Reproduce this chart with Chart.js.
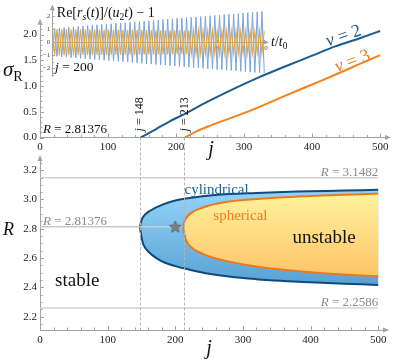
<!DOCTYPE html>
<html><head><meta charset="utf-8">
<script src="https://cdn.jsdelivr.net/npm/chart.js@4.4.1/dist/chart.umd.min.js"></script>
<style>
html,body{margin:0;padding:0;background:#fff;}
#wrap{position:relative;width:394px;height:359px;overflow:hidden;background:#fff}
canvas{position:absolute;left:0;top:0}
</style></head><body>
<div id="wrap">
<canvas id="cBottom" width="394" height="359"></canvas>
<canvas id="cTop" width="394" height="359"></canvas>
<canvas id="cInset" width="394" height="359"></canvas>
</div>
<script>
// ---------------- data ----------------
const jTicks = [0, 100, 200, 300, 400, 500];
const sigmaTicks = [0, 0.5, 1, 1.5, 2];
const rTicks = [2.2, 2.4, 2.6, 2.8, 3.0, 3.2];
const insetTTicks = [2, 4, 6, 8, 10];
const insetYTicks = [-2, -1, 0, 1, 2];

// growth rate sigma_R vs j  (R = 2.81376)
const nu2J     = [148, 170, 190, 213, 250, 287, 320, 360, 400, 434, 470, 500];
const nu2Sigma = [0, 0.16, 0.31, 0.46, 0.72, 0.96, 1.16, 1.38, 1.59, 1.77, 1.93, 2.07];
const nu3J     = [213, 230, 250, 287, 320, 360, 400, 434, 470, 500];
const nu3Sigma = [0, 0.12, 0.23, 0.41, 0.58, 0.81, 1.03, 1.22, 1.43, 1.60];

const onsetJ = [148, 213];
const criticalR = [3.1482, 2.2586];
const markedR = 2.81376;
const starJ = 200;

// stability boundaries R(j)
const cylTopJ = [148, 149.5, 153, 160, 170, 182, 196, 211, 240, 279, 320, 360, 400, 450, 500];
const cylTopR = [2.81, 2.85, 2.885, 2.915, 2.942, 2.967, 2.988, 3.003, 3.022, 3.037, 3.045, 3.051, 3.056, 3.061, 3.066];
const cylBotJ = [149.5, 153, 160, 172, 185, 200, 220, 245, 279, 320, 360, 400, 450, 500];
const cylBotR = [2.76, 2.69, 2.645, 2.60, 2.568, 2.545, 2.522, 2.497, 2.474, 2.456, 2.444, 2.435, 2.425, 2.417];
const sphTopJ = [212, 213.5, 217, 223, 233, 245, 260, 279, 310, 353, 400, 450, 500];
const sphTopR = [2.81, 2.85, 2.88, 2.907, 2.932, 2.952, 2.97, 2.986, 3.0, 3.014, 3.024, 3.032, 3.04];
const sphBotJ = [213.5, 217, 223, 233, 245, 260, 279, 310, 353, 400, 450, 500];
const sphBotR = [2.765, 2.71, 2.675, 2.645, 2.62, 2.597, 2.577, 2.55, 2.523, 2.503, 2.488, 2.476];

// inset: Re[r_s(t)]/(u2 t) - 1 vs t/t0, j = 200 (successive extrema)
const insetT = [1.000,1.026,1.052,1.080,1.108,1.137,1.166,1.196,1.227,1.259,
1.292,1.325,1.359,1.395,1.431,1.468,1.506,1.545,1.585,1.626,
1.668,1.711,1.756,1.801,1.848,1.896,1.945,1.995,2.047,2.100,
2.154,2.210,2.268,2.326,2.387,2.448,2.512,2.577,2.644,2.712,
2.783,2.855,2.929,3.005,3.082,3.162,3.244,3.328,3.415,3.503,
3.594,3.687,3.782,3.880,3.981,4.084,4.190,4.299,4.410,4.524,
4.642,4.762,4.885,5.012,5.142,5.275,5.412,5.552,5.696,5.843,
5.995,6.150,6.310,6.473,6.641,6.813,6.989,7.171,7.356,7.547,
7.743,7.943,8.149,8.360,8.577,8.799,9.027,9.261,9.501,9.747,
10.000];
const insetBlue = [-1.05,1.06,-1.08,1.09,-1.11,1.12,-1.14,1.15,-1.17,1.18,
-1.20,1.21,-1.23,1.24,-1.26,1.27,-1.28,1.30,-1.31,1.33,
-1.34,1.36,-1.37,1.39,-1.40,1.42,-1.43,1.45,-1.46,1.48,
-1.49,1.50,-1.52,1.53,-1.55,1.56,-1.58,1.59,-1.61,1.62,
-1.64,1.65,-1.67,1.68,-1.70,1.71,-1.72,1.74,-1.75,1.77,
-1.78,1.80,-1.81,1.83,-1.84,1.86,-1.87,1.89,-1.90,1.92,
-1.93,1.94,-1.96,1.97,-1.99,2.00,-2.02,2.03,-2.05,2.06,
-2.08,2.09,-2.11,2.12,-2.14,2.15,-2.16,2.18,-2.19,2.21,
-2.22,2.24,-2.25,2.27,-2.28,2.30,-2.31,2.33,-2.34,2.36,
-2.37];
const insetOrange = [1.02,-1.02,1.02,-1.01,1.01,-1.01,1.01,-1.00,1.00,-1.00,
1.00,-0.99,0.99,-0.99,0.99,-0.99,0.98,-0.98,0.98,-0.98,
0.98,-0.97,0.97,-0.97,0.97,-0.97,0.96,-0.96,0.96,-0.96,
0.96,-0.95,0.95,-0.95,0.95,-0.94,0.94,-0.94,0.94,-0.94,
0.93,-0.93,0.93,-0.93,0.93,-0.92,0.92,-0.92,0.92,-0.92,
0.91,-0.91,0.91,-0.91,0.91,-0.90,0.90,-0.90,0.90,-0.90,
0.89,-0.89,0.89,-0.89,0.89,-0.88,0.88,-0.88,0.88,-0.88,
0.87,-0.87,0.87,-0.87,0.87,-0.86,0.86,-0.86,0.86,-0.86,
0.86,-0.85,0.85,-0.85,0.85,-0.85,0.85,-0.85,0.85,-0.85,
0.85];

// ---------------- helpers ----------------
const FONT = '"Liberation Serif","DejaVu Serif",serif';
const BLUE = '#1d5c90', ORANGE = '#f07c1e', AXIS = '#a3a3a3';
function fnt(sz, it) { return (it ? 'italic ' : '') + sz + 'px ' + FONT; }
function richText(ctx, parts, x, y, size, color, align, angle, vmid) {
  ctx.save();
  ctx.translate(x, y);
  if (angle) ctx.rotate(angle);
  ctx.fillStyle = color; ctx.textBaseline = 'alphabetic'; ctx.textAlign = 'left';
  const meas = parts.map(p => {
    const st = p[1] || '';
    const sub = st.indexOf('sub') >= 0;
    const sz = sub ? size * 0.68 : size;
    const f = fnt(sz, st.indexOf('i') === 0);
    ctx.font = f;
    return { t: p[0], f, w: ctx.measureText(p[0]).width, dy: sub ? size * 0.22 : 0 };
  });
  const W = meas.reduce((s, m) => s + m.w, 0);
  let cx = align === 'right' ? -W : align === 'center' ? -W / 2 : 0;
  const by = vmid ? size * 0.3 : 0;
  meas.forEach(m => { ctx.font = m.f; ctx.fillText(m.t, cx, by + m.dy); cx += m.w; });
  ctx.restore();
}
function isMult(v, m) { const q = v / m; return Math.abs(q - Math.round(q)) < 1e-6; }
function drawTicks(ctx, a, xs, ys, c) {
  ctx.save(); ctx.strokeStyle = AXIS; ctx.lineWidth = 1; ctx.beginPath();
  for (let k = 0; ; k++) {
    const v = c.x0 + k * c.xs; if (v > c.x1 + 1e-9) break;
    const px = Math.round(xs.getPixelForValue(v)) + 0.5;
    const L = isMult(v, c.xm) ? 4 : 2.5;
    ctx.moveTo(px, a.bottom); ctx.lineTo(px, a.bottom - L);
  }
  for (let k = 0; ; k++) {
    const v = c.y0 + k * c.ys; if (v > c.y1 + 1e-9) break;
    const py = Math.round(ys.getPixelForValue(v)) + 0.5;
    const L = isMult(v, c.ym) ? 4 : 2.5;
    ctx.moveTo(a.left, py); ctx.lineTo(a.left + L, py);
  }
  ctx.stroke(); ctx.restore();
}
function arrows(ctx, a, yx) {
  ctx.save(); ctx.fillStyle = AXIS;
  ctx.beginPath(); ctx.moveTo(a.left, a.top - 2); ctx.lineTo(a.left - 2.5, a.top + 4); ctx.lineTo(a.left + 2.5, a.top + 4); ctx.closePath(); ctx.fill();
  ctx.beginPath(); ctx.moveTo(a.right + 2, yx); ctx.lineTo(a.right - 4, yx - 2.5); ctx.lineTo(a.right - 4, yx + 2.5); ctx.closePath(); ctx.fill();
  ctx.restore();
}
function pts(xs, ys) { return xs.map((x, i) => ({ x, y: ys[i] })); }
function loop(topJ, topR, botJ, botR) {
  return pts(topJ, topR).reverse().concat(pts(botJ, botR));
}
function vGrad(c, rTop, rBot, c1, c2) {
  const ch = c.chart; if (!ch.chartArea) return c1;
  const ys = ch.scales.y;
  const g = ch.ctx.createLinearGradient(0, ys.getPixelForValue(rTop), 0, ys.getPixelForValue(rBot));
  g.addColorStop(0, c1); g.addColorStop(1, c2); return g;
}
function tickFont(sz) { return { family: FONT, size: sz }; }
const commonOpts = {
  responsive: false, devicePixelRatio: 1, animation: false, events: [],
  plugins: { legend: { display: false }, tooltip: { enabled: false } }
};

// ---------------- top chart: sigma_R(j) ----------------
const topDeco = {
  id: 'topDeco',
  afterDraw(chart) {
    const { ctx, chartArea: a, scales: { x, y } } = chart;
    drawTicks(ctx, a, x, y, { x0: 0, x1: 500, xs: 20, xm: 100, y0: 0, y1: 2.2, ys: 0.1, ym: 0.5 });
    arrows(ctx, a, a.bottom);
    richText(ctx, [['σ', 'i'], ['R', 'sub']], 3, y.getPixelForValue(1.27) + 4, 21, '#111', 'left');
    richText(ctx, [['j', 'i']], x.getPixelForValue(251.5), a.bottom + 17.5, 20, '#111', 'center');
    richText(ctx, [['R', 'i'], [' = ' + markedR]], x.getPixelForValue(4.4), y.getPixelForValue(0.095), 13, '#111', 'left');
    onsetJ.forEach(j => {
      richText(ctx, [['j', 'i'], [' = ' + j]], x.getPixelForValue(j) - 1, y.getPixelForValue(0.45), 12, '#111', 'center', -Math.PI / 2, true);
    });
    richText(ctx, [['ν', 'i'], [' = 2']], x.getPixelForValue(446), y.getPixelForValue(1.98), 18, BLUE, 'center', -19 * Math.PI / 180, true);
    richText(ctx, [['ν', 'i'], [' = 3']], x.getPixelForValue(459), y.getPixelForValue(1.49), 18, ORANGE, 'center', -21 * Math.PI / 180, true);
  }
};
const topChart = new Chart(document.getElementById('cTop'), {
  type: 'line',
  data: {
    datasets: [
      { data: pts(nu2J, nu2Sigma), borderColor: BLUE, borderWidth: 2, pointRadius: 0, fill: false, cubicInterpolationMode: 'monotone' },
      { data: pts(nu3J, nu3Sigma), borderColor: '#f5821f', borderWidth: 2, pointRadius: 0, fill: false, cubicInterpolationMode: 'monotone' }
    ]
  },
  options: Object.assign({}, commonOpts, {
    layout: { padding: { left: 0, right: 5, top: 20.7, bottom: 0 } },
    scales: {
      x: {
        type: 'linear', min: 0, max: 513,
        afterBuildTicks: s => { s.ticks = jTicks.map(v => ({ value: v })); },
        afterFit: s => { s.height = 359 - 137.5; },
        grid: { display: false, drawTicks: false },
        border: { display: true, color: AXIS, width: 1 },
        ticks: { padding: 3, font: tickFont(11), color: '#222', autoSkip: false, maxRotation: 0, callback: v => String(v) }
      },
      y: {
        type: 'linear', min: 0, max: 2.27,
        afterBuildTicks: s => { s.ticks = sigmaTicks.map(v => ({ value: v })); },
        afterFit: s => { s.width = 40; },
        grid: { display: false, drawTicks: false },
        border: { display: true, color: AXIS, width: 1 },
        ticks: { padding: 3, font: tickFont(11), color: '#222', autoSkip: false, callback: v => Number(v).toFixed(1) }
      }
    }
  }),
  plugins: [topDeco]
});

// ---------------- bottom chart: R(j) stability map ----------------
const starImg = document.createElement('canvas');
starImg.width = 14; starImg.height = 14;
(function () {
  const c = starImg.getContext('2d');
  c.beginPath();
  for (let i = 0; i < 10; i++) {
    const r = i % 2 ? 2.7 : 6.3, ang = -Math.PI / 2 + i * Math.PI / 5;
    const px = 7 + r * Math.cos(ang), py = 7.4 + r * Math.sin(ang);
    if (i) c.lineTo(px, py); else c.moveTo(px, py);
  }
  c.closePath(); c.fillStyle = '#808080'; c.fill();
  c.strokeStyle = '#5d5d5d'; c.lineWidth = 0.8; c.stroke();
})();

const bottomDeco = {
  id: 'bottomDeco',
  afterDatasetsDraw(chart) {
    const { ctx, chartArea: a, scales: { x } } = chart;
    const yTop = topChart.scales.y.getPixelForValue(0);
    ctx.save(); ctx.strokeStyle = '#b5b5b5'; ctx.lineWidth = 1; ctx.setLineDash([3, 2]);
    onsetJ.forEach(j => {
      const px = Math.round(x.getPixelForValue(j)) + 0.5;
      ctx.beginPath(); ctx.moveTo(px, yTop); ctx.lineTo(px, a.bottom); ctx.stroke();
    });
    ctx.restore();
  },
  afterDraw(chart) {
    const { ctx, chartArea: a, scales: { x, y } } = chart;
    drawTicks(ctx, a, x, y, { x0: 0, x1: 500, xs: 20, xm: 100, y0: 2.15, y1: 3.25, ys: 0.05, ym: 0.2 });
    arrows(ctx, a, a.bottom);
    richText(ctx, [['R', 'i']], 3, y.getPixelForValue(2.8) + 6.5, 18, '#111', 'left');
    richText(ctx, [['j', 'i']], x.getPixelForValue(250), a.bottom + 24, 20, '#111', 'center');
    richText(ctx, [['R', 'i'], [' = ' + criticalR[0]]], x.getPixelForValue(500), y.getPixelForValue(3.158), 13, '#8a8a8a', 'right');
    richText(ctx, [['R', 'i'], [' = ' + criticalR[1]]], x.getPixelForValue(500), y.getPixelForValue(2.274), 13, '#8a8a8a', 'right');
    richText(ctx, [['R', 'i'], [' = ' + markedR]], x.getPixelForValue(4.4), y.getPixelForValue(2.827), 13, '#8a8a8a', 'left');
    richText(ctx, [['cylindrical']], x.getPixelForValue(261), y.getPixelForValue(3.04), 15, BLUE, 'center');
    richText(ctx, [['spherical']], x.getPixelForValue(296.3), y.getPixelForValue(2.861), 15, ORANGE, 'center');
    richText(ctx, [['unstable']], x.getPixelForValue(420), y.getPixelForValue(2.702), 19, '#111', 'center');
    richText(ctx, [['stable']], x.getPixelForValue(55), y.getPixelForValue(2.406), 19, '#111', 'center');
  }
};

const bottomChart = new Chart(document.getElementById('cBottom'), {
  type: 'line',
  data: {
    datasets: [
      { data: [{ x: 0, y: criticalR[0] }, { x: 500, y: criticalR[0] }], borderColor: '#d3d3d3', borderWidth: 1.5, pointRadius: 0, fill: false, order: 9 },
      { data: [{ x: 0, y: criticalR[1] }, { x: 500, y: criticalR[1] }], borderColor: '#d3d3d3', borderWidth: 1.5, pointRadius: 0, fill: false, order: 9 },
      { data: loop(cylTopJ, cylTopR, cylBotJ, cylBotR), borderColor: '#0e4a7c', borderWidth: 2, pointRadius: 0, tension: 0.4,
        fill: 'shape', borderJoinStyle: 'round',
        backgroundColor: c => vGrad(c, 3.07, 2.41, '#95d4f9', '#58a1d3'), order: 8 },
      { data: [{ x: 0, y: markedR }, { x: onsetJ[1], y: markedR }], borderColor: '#c9c9c9', borderWidth: 1.5, pointRadius: 0, fill: false, order: 7 },
      { data: loop(sphTopJ, sphTopR, sphBotJ, sphBotR), borderColor: '#f07818', borderWidth: 2, pointRadius: 0, tension: 0.4,
        fill: 'shape', borderJoinStyle: 'round',
        backgroundColor: c => vGrad(c, 3.04, 2.47, '#fff29c', '#fcc468'), order: 6 },
      { data: [{ x: starJ, y: markedR }], showLine: false, pointStyle: starImg, pointRadius: 6, order: 1 }
    ]
  },
  options: Object.assign({}, commonOpts, {
    layout: { padding: { left: 0, right: 5, top: 157, bottom: 0 } },
    scales: {
      x: {
        type: 'linear', min: 0, max: 513,
        afterBuildTicks: s => { s.ticks = jTicks.map(v => ({ value: v })); },
        afterFit: s => { s.height = 29; },
        grid: { display: false, drawTicks: false },
        border: { display: true, color: AXIS, width: 1 },
        ticks: { padding: 4, font: tickFont(11), color: '#222', autoSkip: false, maxRotation: 0, callback: v => String(v) }
      },
      y: {
        type: 'linear', min: 2.109, max: 3.29,
        afterBuildTicks: s => { s.ticks = rTicks.map(v => ({ value: v })); },
        afterFit: s => { s.width = 40; },
        grid: { display: false, drawTicks: false },
        border: { display: true, color: AXIS, width: 1 },
        ticks: { padding: 3, font: tickFont(11), color: '#222', autoSkip: false, callback: v => Number(v).toFixed(1) }
      }
    }
  }),
  plugins: [bottomDeco]
});

// ---------------- inset ----------------
const insetDeco = {
  id: 'insetDeco',
  afterDraw(chart) {
    const { ctx, chartArea: a, scales: { x, y } } = chart;
    const y0 = y.getPixelForValue(0);
    ctx.save(); ctx.strokeStyle = AXIS; ctx.lineWidth = 1; ctx.beginPath();
    insetTTicks.forEach(v => { const px = Math.round(x.getPixelForValue(v)) + 0.5; ctx.moveTo(px, y0); ctx.lineTo(px, y0 - 2.5); });
    for (let v = -2.5; v <= 2.5 + 1e-9; v += 0.5) {
      const py = Math.round(y.getPixelForValue(v)) + 0.5; const L = isMult(v, 1) ? 2.5 : 1.5;
      ctx.moveTo(a.left, py); ctx.lineTo(a.left + L, py);
    }
    ctx.stroke(); ctx.restore();
    arrows(ctx, a, y0);
    richText(ctx, [['Re['], ['r', 'i'], ['s', 'isub'], ['('], ['t', 'i'], [')]/('], ['u', 'i'], ['2', 'sub'], ['t', 'i'], [') − 1']],
      x.getPixelForValue(1.05), y.getPixelForValue(1.97), 14, '#111', 'left');
    richText(ctx, [['j', 'i'], [' = ' + starJ]], x.getPixelForValue(1.03), y.getPixelForValue(-2.2), 13.5, '#111', 'left');
    richText(ctx, [['t', 'i'], ['/'], ['t', 'i'], ['0', 'sub']], a.right + 4, y0 + 3.5, 14, '#111', 'left');
  }
};
const insetChart = new Chart(document.getElementById('cInset'), {
  type: 'line',
  data: {
    datasets: [
      { data: pts(insetT, insetBlue), borderColor: '#7aa4da', borderWidth: 1, pointRadius: 0, tension: 0,
        fill: 'origin', backgroundColor: 'rgba(125,165,218,0.14)', order: 2 },
      { data: pts(insetT, insetOrange), borderColor: '#eaa733', borderWidth: 1.1, pointRadius: 0, tension: 0,
        fill: 'origin', backgroundColor: 'rgba(240,190,80,0.3)', order: 1 }
    ]
  },
  options: Object.assign({}, commonOpts, {
    layout: { padding: { left: 0, right: 394 - 267, top: 3.3, bottom: 359 - 76.7 } },
    scales: {
      x: {
        type: 'logarithmic', min: 1, max: 10.3, position: { y: 0 },
        afterBuildTicks: s => { s.ticks = insetTTicks.map(v => ({ value: v })); },
        afterFit: s => { s.height = 0; },
        grid: { display: false, drawTicks: false },
        border: { display: true, color: AXIS, width: 1 },
        ticks: { padding: 2, font: tickFont(7), color: '#444', autoSkip: false, maxRotation: 0, callback: v => String(v) }
      },
      y: {
        type: 'linear', min: -2.63, max: 2.76,
        afterBuildTicks: s => { s.ticks = insetYTicks.map(v => ({ value: v })); },
        afterFit: s => { s.width = 52.3; },
        grid: { display: false, drawTicks: false },
        border: { display: true, color: AXIS, width: 1 },
        ticks: { padding: 2, font: tickFont(7), color: '#444', autoSkip: false, callback: v => (v < 0 ? '−' + Math.abs(v) : String(v)) }
      }
    }
  }),
  plugins: [insetDeco]
});
</script>
</body></html>
